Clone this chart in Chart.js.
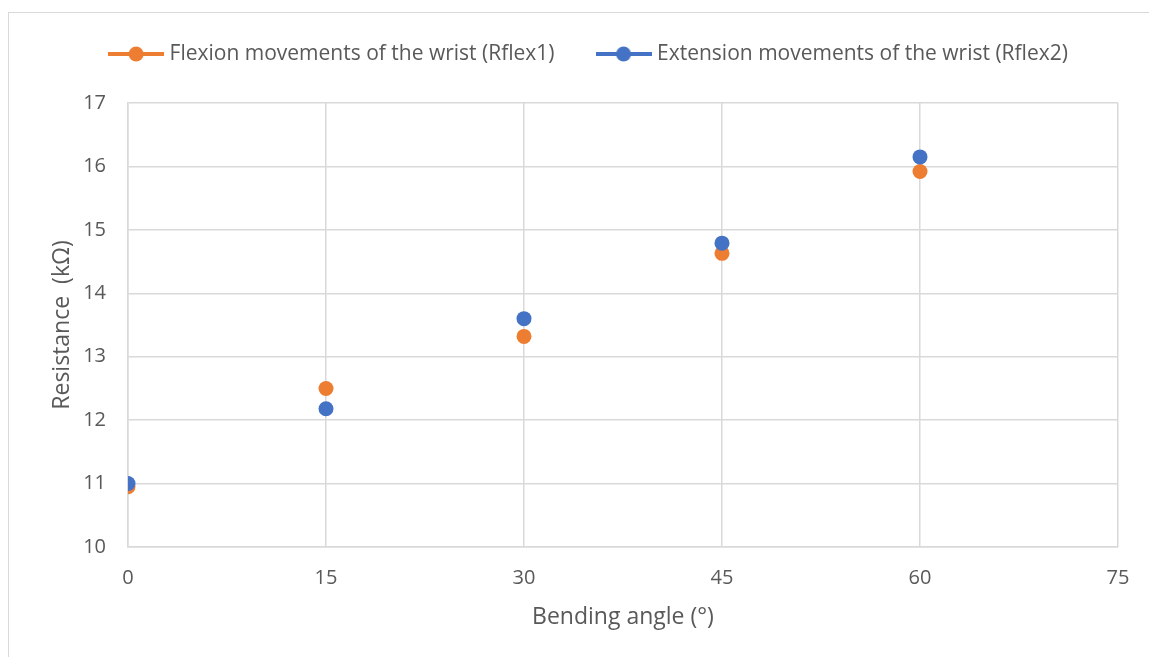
<!DOCTYPE html>
<html><head><meta charset="utf-8">
<script src="https://cdn.jsdelivr.net/npm/chart.js@4"></script>
<style>
html,body{margin:0;padding:0;background:#fff;overflow:hidden;}
#wrap{position:relative;width:1149px;height:657px;overflow:hidden;}
#frame{position:absolute;left:8px;top:12px;width:1200px;height:700px;border:1px solid #d9d9d9;box-sizing:border-box;}
canvas{position:absolute;left:0;top:0;}
</style></head><body>
<div id="wrap"><div id="frame"></div><canvas id="c" width="1149" height="657"></canvas></div>
<script>
const angles = [0, 15, 30, 45, 60];
const flexion = [10.95, 12.50, 13.32, 14.63, 15.92];
const extension = [11.00, 12.18, 13.60, 14.79, 16.15];
const seriesNames = ['Flexion movements of the wrist (Rflex1)', 'Extension movements of the wrist (Rflex2)'];
const seriesColors = ['#ED7D31', '#4472C4'];
const xTitle = 'Bending angle (°)';
const yTitle = 'Resistance  (kΩ)';

const TEXT = '#595959', GRID = '#d9d9d9';
Chart.defaults.font.family = "'Open Sans', sans-serif";

function legendImg(color){
  const c = document.createElement('canvas'); c.width = 56; c.height = 16;
  const g = c.getContext('2d');
  g.strokeStyle = color; g.lineWidth = 4;
  g.beginPath(); g.moveTo(0, 8); g.lineTo(56, 8); g.stroke();
  g.fillStyle = color; g.beginPath(); g.arc(28, 8, 7.5, 0, Math.PI*2); g.fill();
  return c;
}
const imgs = seriesColors.map(legendImg);

const datasets = [flexion, extension].map((vals, i) => ({
  label: seriesNames[i],
  data: angles.map((x, j) => ({x: x, y: vals[j]})),
  backgroundColor: seriesColors[i],
  borderColor: seriesColors[i],
  pointRadius: 7.5, pointHoverRadius: 7.5, pointBorderWidth: 0,
  showLine: false,
  order: i === 0 ? 1 : 0
}));

new Chart(document.getElementById('c'), {
  type: 'scatter',
  data: { datasets },
  options: {
    responsive: false, animation: false, devicePixelRatio: 1, events: [],
    layout: { padding: { left: 63, right: 31, top: -2.5, bottom: 0 } },
    plugins: {
      tooltip: { enabled: false },
      legend: {
        position: 'top',
        labels: {
          usePointStyle: true, pointStyleWidth: 46, padding: 46,
          color: TEXT, font: { size: 21 },
          generateLabels: chart => chart.data.datasets.map((ds, i) => ({
            text: ds.label, fillStyle: ds.backgroundColor, strokeStyle: ds.borderColor,
            lineWidth: 0, pointStyle: imgs[i], hidden: false, datasetIndex: i, fontColor: TEXT
          }))
        }
      },
      subtitle: { display: true, text: '', weight: 500, position: 'top',
        font: { size: 1, lineHeight: 1 }, padding: { top: 0, bottom: 27.5 } }
    },
    scales: {
      x: {
        type: 'linear', min: 0, max: 75,
        ticks: { stepSize: 15, color: TEXT, font: { size: 20 }, padding: 19 },
        grid: { color: GRID, drawTicks: false, lineWidth: 1.5 },
        border: { color: GRID, width: 1.5 },
        title: { display: true, text: xTitle, color: TEXT, font: { size: 23 }, padding: { top: 0, bottom: 26 } },
        afterFit: s => { s.height = 110; }
      },
      y: {
        type: 'linear', min: 10, max: 17,
        ticks: { stepSize: 1, color: TEXT, font: { size: 20 }, padding: 22 },
        grid: { color: GRID, drawTicks: false, lineWidth: 1.5 },
        border: { color: GRID, width: 1.5 },
        title: { display: true, text: yTitle, color: TEXT, font: { size: 23 }, padding: { top: -14, bottom: 0 } },
        afterFit: s => { s.width = 65; }
      }
    }
  }
});
</script>
</body></html>
